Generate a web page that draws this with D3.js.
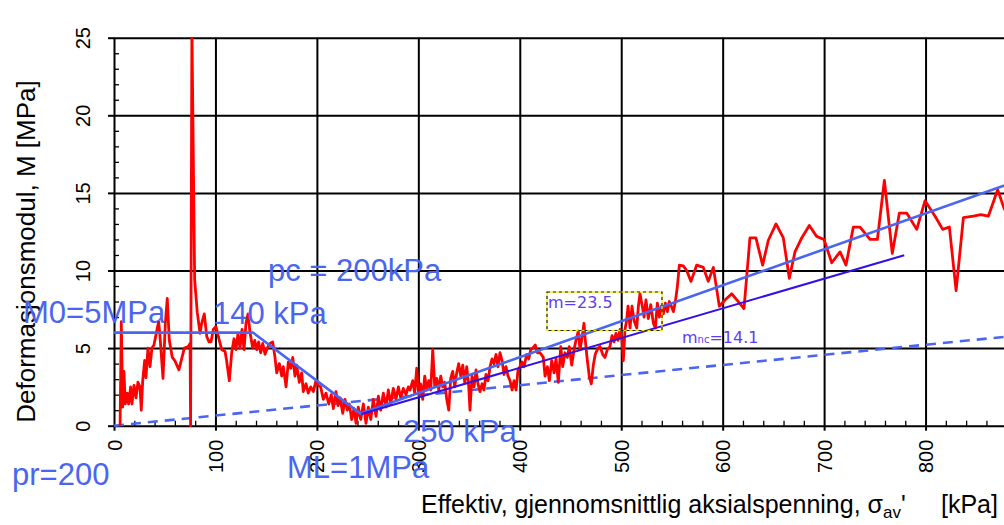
<!DOCTYPE html>
<html>
<head>
<meta charset="utf-8">
<script src="https://cdn.jsdelivr.net/npm/d3@7"></script>
<style>
  html, body { margin: 0; padding: 0; background: #fff; }
  svg { display: block; }
</style>
</head>
<body>
<svg id="chart" width="1004" height="525"></svg>
<script>
// Oedometer test: constrained modulus M versus mean effective axial stress
const xTicks = [0, 100, 200, 300, 400, 500, 600, 700, 800];
const yTicks = [0, 5, 10, 15, 20, 25];

// Measured modulus curve (kPa, MPa)
const stress = [
  6, 7.2, 8.5, 9.8, 11.1, 13.1, 14.4, 16.4, 17.7, 19.7, 21.7, 23.6, 25.6, 26.9, 28.3, 30.2, 31.5, 33.5, 35.5, 37.4,
  39.4, 42.1, 44.0, 45.4, 48.3, 50.6, 52.5, 54.5, 57.5, 59.9, 64, 69.3, 73.3, 75.0, 75.5, 76.8, 79.5, 82.1, 84.8, 86.4,
  89, 91.4, 93.7, 95.6, 97.9, 100.5, 102.8, 106.2, 109.4, 111, 113.7, 116, 118.3, 120.3, 122.2, 124.2, 126.2, 128.2, 130.1, 132.1,
  134.1, 136.7, 138.7, 140.7, 142.6, 144.6, 146.6, 148.9, 151.1, 153.8, 156.4, 158.7, 160.4, 163, 165.3, 166.9, 169.6, 171.8, 174.2, 176.2,
  178.4, 180.1, 182.7, 185, 186.6, 189.3, 191.5, 193.9, 196.5, 199.1, 201.4, 203.7, 206.3, 209, 211.7, 214.2, 216.2, 218.8, 220.8, 222.8,
  225.5, 227.7, 230, 232, 234.3, 236.6, 238.6, 240.8, 243.2, 245.8, 248.4, 250.7, 253.1, 255.6, 258.3, 260.6, 262.9, 265.5, 268.1, 270.4,
  272.8, 275.3, 278, 280.3, 282.6, 285.2, 287.9, 290.1, 291.8, 294.5, 296.4, 298.4, 300.4, 302.3, 304.3, 306.3, 308.3, 310.2, 312.2, 314.2,
  316.2, 318.1, 320.1, 322.1, 324, 326, 328, 330, 331.9, 333.9, 335.9, 337.8, 339.8, 341.8, 343.8, 345.7, 347.7, 349.7, 350.9, 352.9,
  354.9, 356.9, 358.8, 360.8, 362.8, 364.7, 366.7, 368.7, 370.7, 372.6, 374.6, 376.6, 378.5, 380.5, 382.5, 384.5, 386.4, 388.4, 390.4, 392.4,
  394.3, 396.3, 398.3, 400.2, 402.2, 404.2, 406.8, 408.8, 410.8, 412.8, 415.3, 417.3, 420, 423.2, 424.9, 427.2, 429.2, 431.5, 433.8, 435.7,
  438, 440.4, 442.3, 444.6, 446.9, 448.8, 451.2, 453.5, 455.4, 457.7, 459.4, 461.4, 463.3, 464.6, 466.6, 468.5, 470.5, 472.5, 474.4, 477.1,
  479.1, 481.7, 484, 486.3, 488.9, 490.9, 492.9, 494.8, 496.8, 498.8, 500.8, 502.1, 503.7, 505.4, 506.7, 508.7, 510.6, 512.6, 515.3, 516.9,
  518.5, 520.5, 522.5, 524.4, 526.7, 529.1, 531.7, 533.7, 535.6, 537.6, 539.6, 541.5, 543.5, 545.5, 547.4, 549.4, 551.4, 553.4, 555.3, 557.3,
  561.2, 564.5, 568.8, 574.4, 580.9, 585.8, 590.8, 596.7, 602.3, 608.9, 615.4, 621, 626.9, 632.8, 639.4, 645, 652.6, 659.8, 665.7, 671.3,
  677.9, 685.4, 692.6, 699.9, 707.5, 715.7, 721.6, 728.8, 735.4, 745.3, 752.5, 759.4, 767.2, 774.2, 781.4, 791.3, 799.5, 809.4, 816.9, 823.5,
  830.1, 837.3, 847.2, 854.4, 861.9, 871.1, 877.4, 884
];
const modulus = [
  0, 6.7, 1.2, 3.5, 1.4, 2.1, 1.4, 2.5, 1.4, 2.6, 1.8, 2.8, 2.5, 1.0, 2.9, 4.2, 3.1, 5.0, 3.8, 5.0,
  5.2, 6.1, 6.7, 5.7, 3.05, 6.6, 8.2, 5.5, 4.4, 4.2, 3.6, 5.0, 5.1, 5.3, 0, 25.6, 9.4, 7.3, 5.95, 6.6,
  7.2, 5.75, 5.4, 5.4, 6.2, 6.4, 5.75, 4.9, 4.8, 4.2, 2.9, 4.7, 5.6, 4.9, 5.95, 5.0, 6.2, 4.9, 6.6, 7.2,
  6.0, 5.0, 5.5, 4.9, 5.4, 4.7, 5.3, 4.6, 5.0, 5.3, 5.4, 4.4, 3.4, 4.0, 3.2, 3.8, 2.5, 4.1, 3.7, 4.4,
  3.2, 3.9, 2.8, 3.4, 2.2, 2.7, 2.1, 2.5, 2.2, 2.9, 2.6, 2.5, 1.7, 2.1, 1.4, 2.0, 1.1, 2.2, 1.3, 1.8,
  0.8, 1.7, 1.0, 1.4, 0.4, 1.1, 0.15, 1.2, 0.4, 1.4, 0.15, 1.2, 0.4, 1.7, 0.6, 1.9, 1.0, 2.1, 1.2, 2.3,
  1.4, 2.4, 1.7, 2.5, 1.8, 2.4, 2.0, 2.5, 2.3, 2.9, 2.1, 3.7, 2.0, 2.7, 1.7, 3.2, 2.3, 2.9, 2.3, 4.9,
  2.5, 3.05, 2.3, 3.2, 2.5, 2.8, 1.7, 1.0, 3.05, 3.5, 2.5, 3.4, 4.0, 3.2, 3.9, 2.8, 3.8, 2.5, 1.0, 3.2,
  2.5, 3.6, 2.7, 2.2, 2.7, 2.3, 3.3, 2.9, 3.8, 4.3, 4.0, 4.6, 3.8, 4.7, 4.2, 3.3, 3.8, 3.2, 2.9, 2.3,
  2.9, 2.3, 3.6, 3.8, 4.1, 3.8, 4.6, 4.3, 4.9, 5.0, 5.2, 4.7, 4.7, 4.4, 3.2, 3.8, 2.9, 4.2, 3.4, 4.3,
  2.8, 5.1, 3.8, 4.7, 4.4, 5.1, 3.9, 4.9, 5.5, 6.1, 4.9, 5.7, 6.6, 5.5, 4.2, 3.2, 2.7, 3.9, 4.6, 5.0,
  5.1, 4.6, 4.4, 4.9, 5.1, 5.8, 5.4, 5.95, 5.5, 6.2, 5.5, 4.2, 6.2, 6.8, 7.7, 6.3, 7.7, 6.8, 6.3, 7.7,
  8.5, 7.8, 7.0, 8.1, 6.9, 7.8, 6.6, 6.3, 7.9, 7.0, 7.7, 7.2, 7.9, 7.35, 8.0, 7.7, 7.35, 8.0, 8.95, 10.35,
  10.3, 10.0, 9.3, 10.35, 10.2, 9.3, 10.2, 7.7, 8.1, 8.5, 8.0, 7.55, 12.1, 12.1, 10.35, 11.95, 13.0, 12.1, 9.5, 11.2,
  12.1, 12.9, 12.2, 12.0, 10.5, 11.2, 10.35, 12.8, 12.8, 12.0, 12.0, 15.8, 11.1, 13.7, 13.7, 12.65, 14.5, 13.5, 12.65, 12.8,
  8.7, 13.4, 13.5, 13.6, 13.5, 15.2, 14.0, 13.2
];

// Interpreted modulus model: M0 plateau, drop to ML, then linear rise (m = 23.5)
const modelStress = [0, 137, 243, 900];
const modelModulus = [6.0, 6.0, 0.78, 16.0];
// Normally consolidated line (m_nc = 14.1)
const ncStress = [244, 779];
const ncModulus = [0.75, 10.98];
// Reference line through the origin (dashed)
const refStress = [0, 900];
const refModulus = [0, 5.87];

const svg = d3.select("#chart");
const FONT = "'Liberation Sans', Arial, sans-serif";
const BLUE = "#4a66f0";
const VIOLET = "#5a3ef0";

const x0 = 114, xW = 913, yTop = 37.7, yBot = 425.7;
const x = d3.scaleLinear().domain([0, 900]).range([x0, x0 + xW]);
const y = d3.scaleLinear().domain([0, 25]).range([yBot, yTop]);

// ---- grid and axes ----
const minorX = d3.range(0, 901, 20).filter(v => v % 100 !== 0);
const minorY = d3.range(0, 26, 1).filter(v => v % 5 !== 0);

// horizontal grid lines
svg.append("g")
  .attr("transform", `translate(${x0},0)`)
  .call(d3.axisLeft(y).tickValues(yTicks).tickSize(-xW).tickFormat(""))
  .call(g => g.select(".domain").remove())
  .call(g => g.selectAll("line").attr("stroke", "#000").attr("stroke-width", 2));

// vertical grid lines
svg.append("g")
  .attr("transform", `translate(0,${yBot})`)
  .call(d3.axisBottom(x).tickValues(xTicks).tickSize(-(yBot - yTop)).tickFormat(""))
  .call(g => g.select(".domain").remove())
  .call(g => g.selectAll("line").attr("stroke", "#000").attr("stroke-width", 2));

// y axis: outer major ticks with rotated labels
svg.append("g")
  .attr("transform", `translate(${x0},0)`)
  .call(d3.axisLeft(y).tickValues(yTicks).tickSize(6).tickSizeOuter(0))
  .call(g => g.select(".domain").remove())
  .call(g => g.selectAll("line").attr("stroke", "#000").attr("stroke-width", 2))
  .call(g => g.selectAll("text")
    .attr("x", null).attr("y", null).attr("dy", null)
    .attr("transform", "translate(-24,0) rotate(-90)")
    .attr("text-anchor", "middle")
    .attr("fill", "#000")
    .style("font-family", FONT).style("font-size", "20px"));

// y axis: inner minor ticks
svg.append("g")
  .attr("transform", `translate(${x0},0)`)
  .call(d3.axisLeft(y).tickValues(minorY).tickSize(-5).tickFormat(""))
  .call(g => g.select(".domain").remove())
  .call(g => g.selectAll("line").attr("stroke", "#000").attr("stroke-width", 1.3));

// x axis: outer major ticks with rotated labels
svg.append("g")
  .attr("transform", `translate(0,${yBot})`)
  .call(d3.axisBottom(x).tickValues(xTicks).tickSize(5).tickSizeOuter(0))
  .call(g => g.select(".domain").remove())
  .call(g => g.selectAll("line").attr("stroke", "#000").attr("stroke-width", 2))
  .call(g => g.selectAll("text")
    .attr("x", null).attr("y", null).attr("dy", null)
    .attr("transform", "translate(7,14) rotate(-90)")
    .attr("text-anchor", "end")
    .attr("fill", "#000")
    .style("font-family", FONT).style("font-size", "20px"));

// x axis: inner minor ticks
svg.append("g")
  .attr("transform", `translate(0,${yBot})`)
  .call(d3.axisBottom(x).tickValues(minorX).tickSize(-5).tickFormat(""))
  .call(g => g.select(".domain").remove())
  .call(g => g.selectAll("line").attr("stroke", "#000").attr("stroke-width", 1.3));

// ---- data lines ----
svg.append("clipPath").attr("id", "plotClip")
  .append("rect").attr("x", x0).attr("y", yTop).attr("width", xW).attr("height", yBot - yTop + 2);

const plot = svg.append("g").attr("clip-path", "url(#plotClip)");
const line = d3.line().x(d => x(d[0])).y(d => y(d[1]));
const pairs = (xs, ys) => xs.map((v, i) => [v, ys[i]]);

plot.append("path")
  .attr("d", line(pairs(refStress, refModulus)))
  .attr("fill", "none").attr("stroke", BLUE).attr("stroke-width", 2.6)
  .attr("stroke-dasharray", "10,7");

plot.append("path")
  .attr("d", line(pairs(stress, modulus)))
  .attr("fill", "none").attr("stroke", "#ff0000").attr("stroke-width", 2.8)
  .attr("stroke-linejoin", "round");

plot.append("path")
  .attr("d", line(pairs(modelStress, modelModulus)))
  .attr("fill", "none").attr("stroke", BLUE).attr("stroke-width", 2.6)
  .attr("stroke-linejoin", "round");

plot.append("path")
  .attr("d", line(pairs(ncStress, ncModulus)))
  .attr("fill", "none").attr("stroke", "#3410e8").attr("stroke-width", 2);

// ---- slope labels ----
svg.append("rect")
  .attr("x", 547).attr("y", 292).attr("width", 115).attr("height", 38.5)
  .attr("fill", "none").attr("stroke", "#f2e600").attr("stroke-width", 1.2);
svg.append("rect")
  .attr("x", 547).attr("y", 292).attr("width", 115).attr("height", 38.5)
  .attr("fill", "none").attr("stroke", "#222").attr("stroke-width", 1.2)
  .attr("stroke-dasharray", "3,3");
svg.append("text")
  .attr("x", 548).attr("y", 308)
  .attr("fill", VIOLET)
  .style("font-family", "'DejaVu Sans', Verdana, sans-serif").style("font-size", "16px")
  .text("m=23.5");

const mnc = svg.append("text")
  .attr("x", 682).attr("y", 343)
  .attr("fill", VIOLET)
  .style("font-family", "'DejaVu Sans', Verdana, sans-serif").style("font-size", "16px");
mnc.append("tspan").text("m");
mnc.append("tspan").style("font-size", "10px").text("nc");
mnc.append("tspan").text("=14.1");

// ---- axis titles ----
svg.append("text")
  .attr("transform", "translate(35,251.5) rotate(-90)")
  .attr("text-anchor", "middle")
  .attr("fill", "#000")
  .style("font-family", FONT).style("font-size", "26px")
  .text("Deformasjonsmodul, M [MPa]");

const xt = svg.append("text")
  .attr("x", 421).attr("y", 513)
  .attr("fill", "#000")
  .style("font-family", FONT).style("font-size", "25px");
xt.append("tspan").text("Effektiv, gjennomsnittlig aksialspenning, σ");
xt.append("tspan").attr("dy", 5).style("font-size", "17px").text("av");
xt.append("tspan").attr("dy", -5).text("'");
xt.append("tspan").attr("x", 941).text("[kPa]");

// ---- model annotations ----
const notes = [
  { text: "pc = 200kPa", x: 268, y: 281 },
  { text: "M0=5MPa", x: 23, y: 323 },
  { text: "140 kPa", x: 213, y: 324 },
  { text: "250 kPa", x: 403, y: 442 },
  { text: "ML=1MPa", x: 287, y: 478 },
  { text: "pr=200", x: 12, y: 485 }
];
svg.append("g").selectAll("text")
  .data(notes)
  .join("text")
  .attr("x", d => d.x).attr("y", d => d.y)
  .attr("fill", BLUE)
  .style("font-family", FONT).style("font-size", "31px")
  .text(d => d.text);
</script>
</body>
</html>
